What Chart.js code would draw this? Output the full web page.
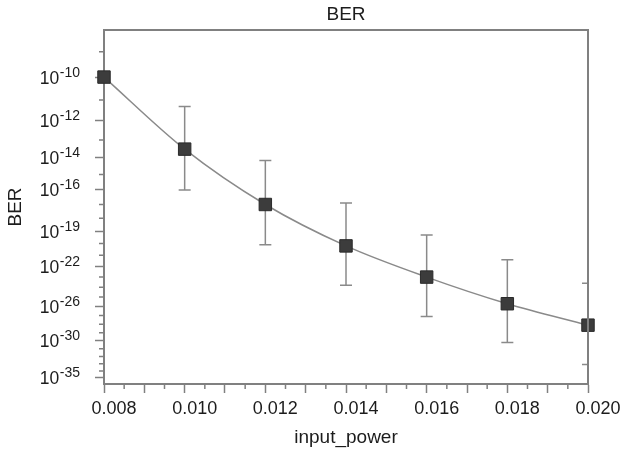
<!DOCTYPE html>
<html>
<head>
<meta charset="utf-8">
<script src="https://cdn.jsdelivr.net/npm/chart.js@4.4.1/dist/chart.umd.min.js"></script>
<style>
  html, body { margin: 0; padding: 0; background: #fff; }
  #wrap { width: 626px; height: 454px; }
</style>
</head>
<body>
<div id="wrap"><canvas id="berChart" width="626" height="454"></canvas></div>
<script>
// input power (x) and BER read as powers of ten
const inputPower = [0.008, 0.010, 0.012, 0.014, 0.016, 0.018, 0.020];
const berExponent = [-10.0, -13.5, -17.0, -20.2, -23.0, -25.7, -28.1];
// error bar ends, also powers of ten (null = no bar)
const errTopExponent = [null, -11.3, -14.15, -16.9, -19.3, -21.4, -23.6];
const errBottomExponent = [null, -16.0, -20.1, -23.8, -27.1, -30.2, -33.1];

const xTickLabels = ['0.008', '0.010', '0.012', '0.014', '0.016', '0.018', '0.020'];
const yTickExponents = [-10, -12, -14, -16, -19, -22, -26, -30, -35];

const FONT = "'Liberation Sans', Arial, sans-serif";
const AXIS_GREY = '#808080';
const TEXT = '#1c1c1c';

// axis is log of the exponent magnitude, so BER 1e-n is plotted at n
const toAxis = e => -e;

const errorBars = {
    id: 'errorBars',
    beforeDatasetsDraw(chart) {
        const { ctx, chartArea: a, scales: { x, y } } = chart;
        ctx.save();
        ctx.beginPath();
        ctx.rect(a.left, a.top, a.right - a.left, a.bottom - a.top);
        ctx.clip();
        ctx.strokeStyle = '#8a8a8a';
        ctx.lineWidth = 1.5;
        inputPower.forEach((p, i) => {
            if (errTopExponent[i] == null) return;
            const px = x.getPixelForValue(p);
            const y1 = y.getPixelForValue(toAxis(errTopExponent[i]));
            const y2 = y.getPixelForValue(toAxis(errBottomExponent[i]));
            ctx.beginPath();
            ctx.moveTo(px, y1); ctx.lineTo(px, y2);
            ctx.moveTo(px - 6, y1); ctx.lineTo(px + 6, y1);
            ctx.moveTo(px - 6, y2); ctx.lineTo(px + 6, y2);
            ctx.stroke();
        });
        ctx.restore();
    }
};

const frameAndLabels = {
    id: 'frameAndLabels',
    afterDraw(chart) {
        const { ctx, chartArea: a, scales: { x, y } } = chart;
        ctx.save();
        // top and right frame
        ctx.strokeStyle = AXIS_GREY;
        ctx.lineWidth = 2;
        ctx.beginPath();
        ctx.moveTo(a.left, a.top); ctx.lineTo(a.right, a.top); ctx.lineTo(a.right, a.bottom);
        ctx.stroke();

        // minor ticks
        ctx.lineWidth = 1.5;
        ctx.beginPath();
        for (let i = 0; i < 12; i++) {
            const px = x.getPixelForValue(0.0085 + i * 0.001);
            ctx.moveTo(px, a.bottom); ctx.lineTo(px, a.bottom + 5);
        }
        const majors = yTickExponents.map(toAxis);
        for (let n = 9; n <= 35; n++) {
            if (majors.includes(n)) continue;
            const py = y.getPixelForValue(n);
            ctx.moveTo(a.left - 5, py); ctx.lineTo(a.left, py);
        }
        ctx.stroke();

        // y tick labels with superscript exponents
        ctx.fillStyle = TEXT;
        ctx.textAlign = 'left';
        ctx.textBaseline = 'alphabetic';
        const right = a.left - 24;
        yTickExponents.forEach(e => {
            const py = y.getPixelForValue(toAxis(e));
            const sup = String(e);
            ctx.font = '14px ' + FONT;
            const wSup = ctx.measureText(sup).width;
            ctx.font = '17.5px ' + FONT;
            const wBase = ctx.measureText('10').width;
            ctx.fillText('10', right - wSup - wBase - 0.5, py + 6.5);
            ctx.font = '14px ' + FONT;
            ctx.fillText(sup, right - wSup, py - 0.5);
        });
        ctx.restore();
    }
};

const ctx = document.getElementById('berChart').getContext('2d');
new Chart(ctx, {
    type: 'line',
    data: {
        datasets: [{
            label: 'BER',
            data: inputPower.map((p, i) => ({ x: p, y: toAxis(berExponent[i]) })),
            borderColor: '#8a8a8a',
            borderWidth: 1.5,
            cubicInterpolationMode: 'monotone',
            pointStyle: 'rect',
            pointRadius: 8.8,
            pointBackgroundColor: '#3c3c3c',
            pointBorderColor: '#2a2a2a',
            pointBorderWidth: 1,
            clip: false
        }]
    },
    options: {
        responsive: false,
        animation: false,
        layout: { padding: { left: 0, right: 38, top: 0, bottom: 0 } },
        scales: {
            x: {
                type: 'linear',
                min: 0.008,
                max: 0.020,
                afterBuildTicks: scale => {
                    const ticks = [];
                    for (let i = 0; i <= 12; i++) ticks.push({ value: (8 + i) / 1000 });
                    scale.ticks = ticks;
                },
                afterFit: scale => { scale.height = 70; },
                grid: { drawOnChartArea: false, tickLength: 9, tickColor: AXIS_GREY, tickWidth: 1.5 },
                border: { color: AXIS_GREY, width: 2 },
                ticks: {
                    autoSkip: false,
                    maxRotation: 0,
                    padding: 5,
                    labelOffset: 10,
                    color: TEXT,
                    font: { family: FONT, size: 18 },
                    callback: (v, i) => (i % 2 === 0 ? xTickLabels[i / 2] : '')
                },
                title: {
                    display: true,
                    text: 'input_power',
                    color: TEXT,
                    font: { family: FONT, size: 19 },
                    padding: { top: 0, bottom: 4.6 }
                }
            },
            y: {
                type: 'logarithmic',
                reverse: true,
                min: 8.22,
                max: 35.9,
                afterBuildTicks: scale => {
                    scale.ticks = yTickExponents.map(e => ({ value: toAxis(e) }));
                },
                afterFit: scale => { scale.width = 104; },
                grid: { drawOnChartArea: false, tickLength: 9, tickColor: AXIS_GREY, tickWidth: 1.5 },
                border: { color: AXIS_GREY, width: 2 },
                ticks: { autoSkip: false, callback: () => '' },
                title: {
                    display: true,
                    text: 'BER',
                    color: TEXT,
                    font: { family: FONT, size: 19 },
                    padding: { top: 4.6, bottom: 0 }
                }
            }
        },
        plugins: {
            legend: { display: false },
            tooltip: { enabled: false },
            title: {
                display: true,
                text: 'BER',
                fullSize: false,
                color: TEXT,
                font: { family: FONT, size: 19, weight: 'normal' },
                padding: { top: 3.2, bottom: 4 }
            }
        }
    },
    plugins: [errorBars, frameAndLabels]
});
</script>
</body>
</html>
